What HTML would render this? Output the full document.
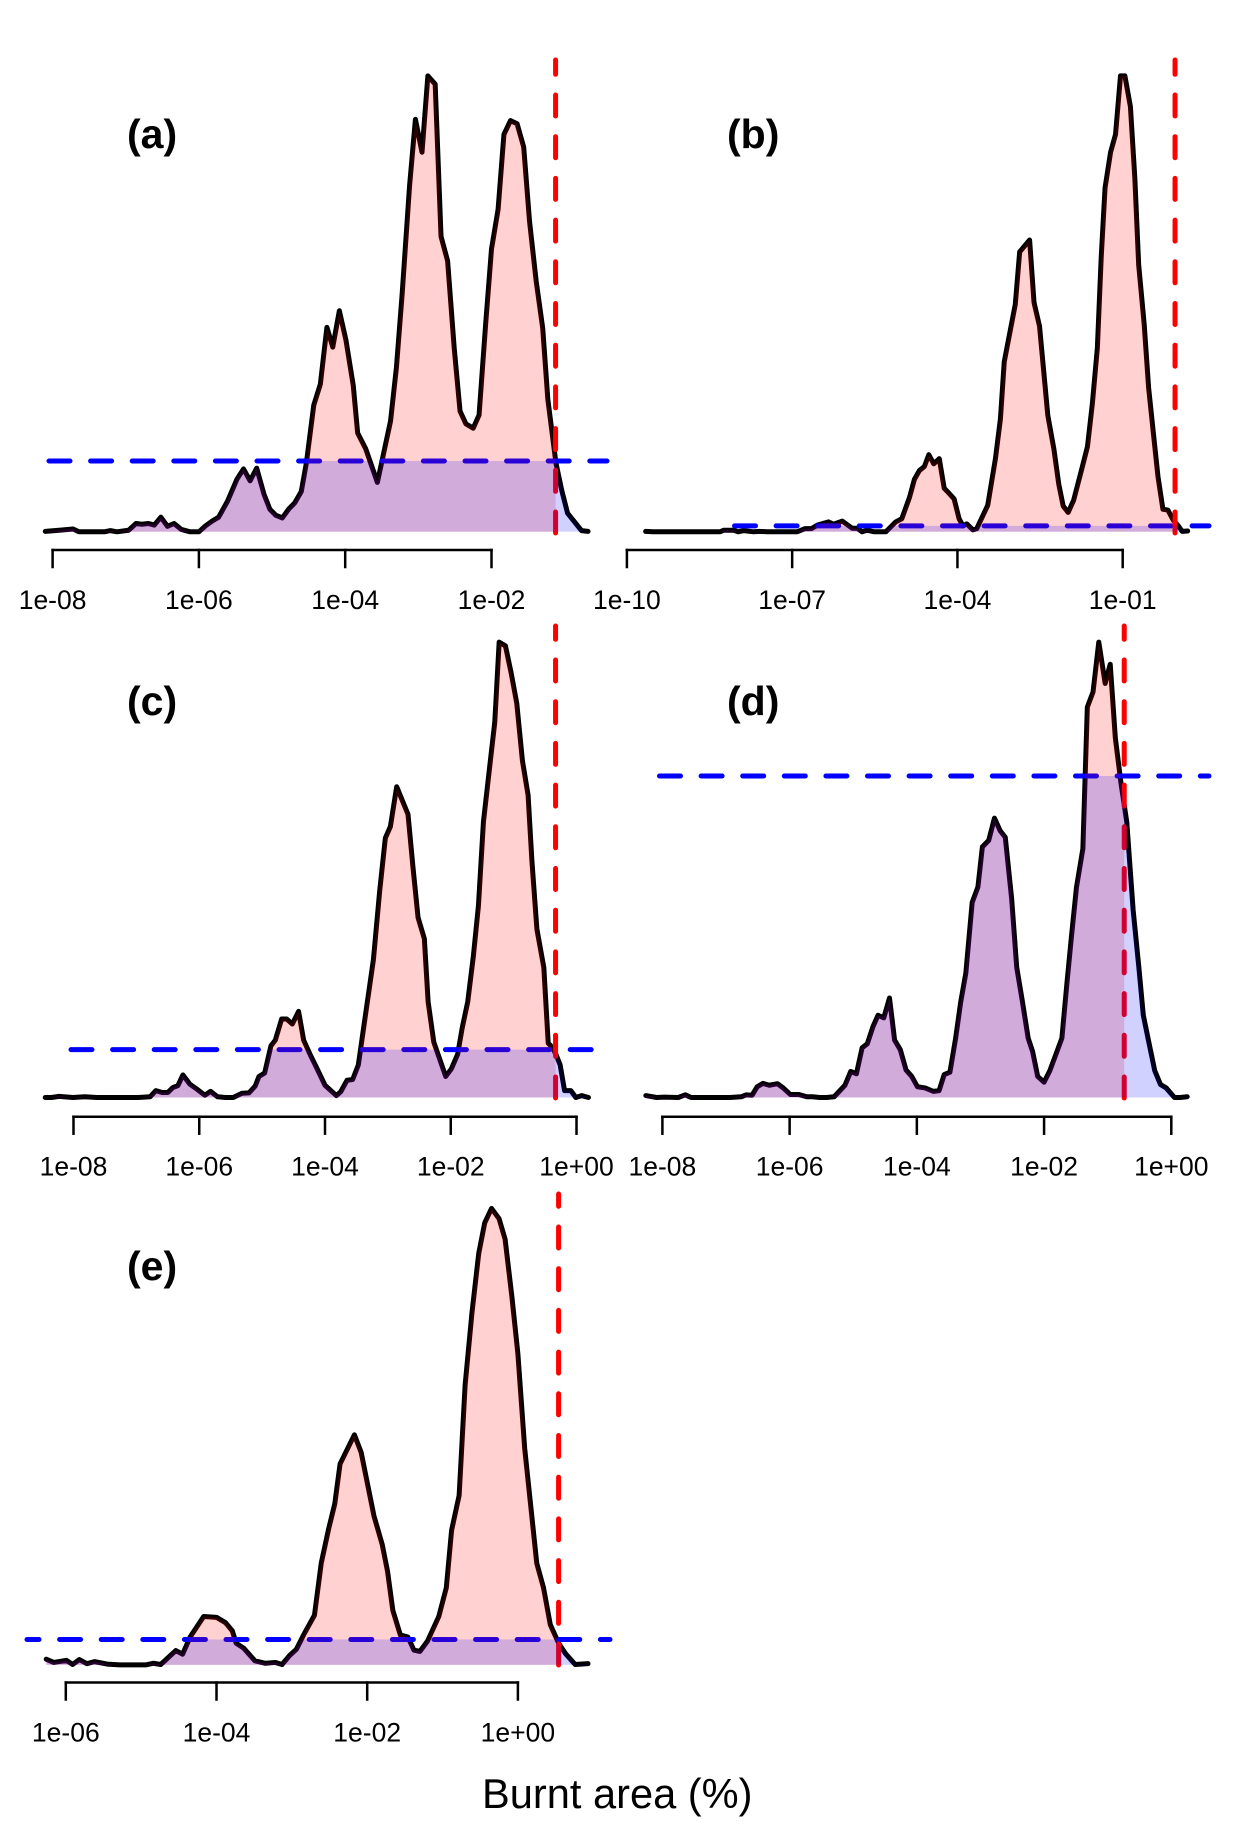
<!DOCTYPE html>
<html lang="en">
<head>
<meta charset="utf-8">
<title>Burnt area density panels</title>
<style>
html,body{margin:0;padding:0;background:#fff;}
svg{display:block;}
text{font-family:"Liberation Sans",Arial,sans-serif;fill:#000;}
.tick-label{font-size:26.5px;text-anchor:middle;}
.panel-letter{font-size:41px;font-weight:bold;}
</style>
</head>
<body>
<svg id="figure" xmlns="http://www.w3.org/2000/svg" width="1235" height="1833" viewBox="0 0 1235 1833">
  <rect x="0" y="0" width="1235" height="1833" fill="#ffffff"/>
  <g id="panel-a"></g>
  <g id="panel-b"></g>
  <g id="panel-c"></g>
  <g id="panel-d"></g>
  <g id="panel-e"></g>
  <text class="panel-letter" x="127" y="148">(a)</text>
  <text class="panel-letter" x="727" y="148">(b)</text>
  <text class="panel-letter" x="127" y="715">(c)</text>
  <text class="panel-letter" x="727" y="715">(d)</text>
  <text class="panel-letter" x="127" y="1280">(e)</text>
  <text x="482" y="1808" font-size="41.6">Burnt area (%)</text>
</svg>
<script>
// Panel (a)
const logAreaA = [-8.10,-7.91,-7.72,-7.64,-7.29,-7.21,-7.12,-6.96,-6.86,-6.78,-6.69,-6.61,-6.52,-6.43,-6.34,-6.24,-6.12,-6.00,-5.91,-5.82,-5.73,-5.61,-5.48,-5.39,-5.30,-5.21,-5.11,-5.03,-4.95,-4.86,-4.77,-4.69,-4.60,-4.53,-4.43,-4.34,-4.25,-4.17,-4.08,-3.99,-3.89,-3.83,-3.72,-3.56,-3.38,-3.30,-3.22,-3.12,-3.04,-2.95,-2.87,-2.77,-2.69,-2.60,-2.51,-2.43,-2.35,-2.25,-2.17,-2.08,-2.00,-1.91,-1.83,-1.74,-1.65,-1.56,-1.48,-1.39,-1.30,-1.23,-1.12,-1.04,-0.96,-0.77,-0.68];
const densityA = [1,4,7,0,0,3,0,4,21,19,21,17,37,14,21,6,0,0,15,27,37,77,133,159,129,161,95,57,42,35,58,73,102,175,320,373,517,467,559,485,370,250,210,125,280,415,605,875,1043,960,1153,1132,747,685,465,305,273,262,295,525,715,815,1005,1040,1032,973,785,635,515,335,175,105,47,3,1];
const tickValuesA = [-8,-6,-4,-2];
const tickLabelsA = ["1e-08","1e-06","1e-04","1e-02"];
const thresholdLogA = -1.124;
const thresholdDensityA = 179;

// Panel (b)
const logAreaB = [-9.66,-9.53,-8.31,-8.24,-8.06,-7.98,-7.88,-7.70,-7.60,-7.45,-6.91,-6.77,-6.65,-6.54,-6.34,-6.25,-6.09,-5.91,-5.82,-5.73,-5.64,-5.51,-5.30,-5.12,-5.01,-4.87,-4.78,-4.69,-4.60,-4.52,-4.43,-4.33,-4.24,-4.17,-4.06,-3.97,-3.90,-3.83,-3.72,-3.65,-3.45,-3.31,-3.22,-3.15,-3.04,-2.95,-2.87,-2.69,-2.61,-2.51,-2.36,-2.25,-2.16,-2.08,-1.99,-1.89,-1.75,-1.64,-1.55,-1.46,-1.39,-1.32,-1.22,-1.13,-1.04,-0.96,-0.86,-0.78,-0.71,-0.61,-0.53,-0.44,-0.36,-0.27,-0.18,-0.08,0.01,0.08,0.18];
const densityB = [1,0,0,4,4,0,3,0,1,0,0,8,8,17,25,19,27,9,9,0,4,0,0,25,33,87,133,155,165,195,172,185,110,100,83,33,15,20,5,8,67,185,285,430,510,575,708,738,580,520,295,210,120,65,49,80,155,215,325,465,695,870,960,1005,1153,1153,1075,895,675,525,365,245,140,57,55,29,15,1,2];
const tickValuesB = [-10,-7,-4,-1];
const tickLabelsB = ["1e-10","1e-07","1e-04","1e-01"];
const thresholdLogB = -0.05;
const thresholdDensityB = 15;

// Panel (c)
const logAreaC = [-8.45,-8.35,-8.23,-8.01,-7.82,-7.63,-6.97,-6.78,-6.69,-6.59,-6.50,-6.42,-6.34,-6.26,-6.15,-6.03,-5.91,-5.82,-5.71,-5.58,-5.46,-5.32,-5.21,-5.11,-5.05,-4.96,-4.86,-4.79,-4.69,-4.61,-4.52,-4.42,-4.34,-4.23,-4.14,-4.00,-3.82,-3.75,-3.65,-3.56,-3.47,-3.37,-3.23,-3.13,-3.04,-2.96,-2.86,-2.68,-2.60,-2.52,-2.42,-2.36,-2.27,-2.08,-1.99,-1.89,-1.82,-1.73,-1.64,-1.56,-1.48,-1.37,-1.30,-1.23,-1.13,-1.04,-0.95,-0.86,-0.77,-0.71,-0.63,-0.52,-0.45,-0.38,-0.32,-0.26,-0.19,-0.09,-0.01,0.08,0.19];
const densityC = [0,0,3,0,2,0,0,2,18,13,13,26,31,59,35,21,6,16,2,0,0,11,12,30,55,64,135,150,205,205,192,225,150,110,80,32,5,15,45,47,85,200,360,540,678,708,812,740,600,470,415,250,145,55,75,113,180,250,370,500,720,880,980,1190,1180,1110,1030,880,790,620,440,340,142,130,110,85,18,18,0,5,0];
const tickValuesC = [-8,-6,-4,-2,0];
const tickLabelsC = ["1e-08","1e-06","1e-04","1e-02","1e+00"];
const thresholdLogC = -0.333;
const thresholdDensityC = 125;

// Panel (d)
const logAreaD = [-8.26,-8.09,-7.97,-7.75,-7.64,-7.55,-7.13,-7.04,-6.94,-6.76,-6.68,-6.59,-6.51,-6.42,-6.32,-6.19,-6.10,-5.99,-5.86,-5.73,-5.64,-5.53,-5.42,-5.30,-5.13,-5.04,-4.95,-4.86,-4.78,-4.69,-4.61,-4.52,-4.43,-4.35,-4.26,-4.17,-4.08,-3.99,-3.87,-3.74,-3.65,-3.57,-3.48,-3.39,-3.31,-3.23,-3.13,-3.04,-2.97,-2.87,-2.78,-2.69,-2.61,-2.51,-2.43,-2.34,-2.25,-2.18,-2.10,-2.00,-1.91,-1.82,-1.72,-1.64,-1.57,-1.49,-1.39,-1.32,-1.23,-1.14,-1.04,-0.96,-0.88,-0.79,-0.70,-0.60,-0.51,-0.44,-0.36,-0.26,-0.17,-0.08,0.05,0.14,0.25];
const densityD = [5,0,1,0,7,0,0,0,0,2,7,6,28,37,32,36,25,8,8,2,2,0,0,2,32,68,62,130,140,185,215,208,260,150,125,72,55,28,25,16,18,60,66,155,250,325,510,550,655,672,730,697,680,520,340,250,155,120,55,40,70,110,155,300,420,550,650,1020,1060,1190,1082,1132,940,820,720,490,340,215,150,70,34,25,0,0,2];
const tickValuesD = [-8,-6,-4,-2,0];
const tickLabelsD = ["1e-08","1e-06","1e-04","1e-02","1e+00"];
const thresholdLogD = -0.74;
const thresholdDensityD = 840;

// Panel (e)
const logAreaE = [-6.26,-6.16,-5.99,-5.91,-5.82,-5.72,-5.62,-5.45,-5.28,-4.94,-4.84,-4.74,-4.64,-4.54,-4.45,-4.35,-4.17,-4.00,-3.88,-3.79,-3.74,-3.64,-3.49,-3.35,-3.22,-3.13,-3.03,-2.94,-2.83,-2.70,-2.61,-2.51,-2.43,-2.36,-2.17,-2.08,-1.91,-1.80,-1.73,-1.66,-1.56,-1.46,-1.38,-1.30,-1.20,-1.05,-0.95,-0.88,-0.78,-0.70,-0.61,-0.52,-0.44,-0.35,-0.25,-0.17,-0.08,0.00,0.09,0.17,0.25,0.34,0.43,0.54,0.63,0.76,0.93];
const densityE = [14,6,11,1,13,3,8,2,0,0,4,1,18,35,26,68,118,116,103,83,53,41,10,4,6,1,23,38,78,121,248,333,393,490,561,518,363,293,228,133,73,68,36,33,58,118,188,328,413,683,858,1003,1078,1113,1088,1038,898,758,528,388,248,188,98,53,28,1,3];
const tickValuesE = [-6,-4,-2,0];
const tickLabelsE = ["1e-06","1e-04","1e-02","1e+00"];
const thresholdLogE = 0.54;
const thresholdDensityE = 62;

const SVG_NS = "http://www.w3.org/2000/svg";

function makeXScale(ticks, leftPx, rightPx) {
  const first = ticks[0];
  const last = ticks[ticks.length - 1];
  return function (v) { return leftPx + (v - first) * (rightPx - leftPx) / (last - first); };
}
function makeYScale(maxDensity, baselinePx, topPx) {
  return function (d) { return baselinePx - d * (baselinePx - topPx) / maxDensity; };
}
function make(tag, attrs) {
  const el = document.createElementNS(SVG_NS, tag);
  for (const k in attrs) el.setAttribute(k, attrs[k]);
  return el;
}

function drawPanel(id, logArea, density, tickValues, tickLabels, thrLog, thrDensity, layout) {
  const g = document.getElementById("panel-" + id);
  const x = makeXScale(tickValues, layout.axisLeft, layout.axisRight);
  const y = makeYScale(layout.maxDensity, layout.baseline, layout.top);
  const baseY = y(0);

  const curvePts = logArea.map(function (v, i) { return x(v).toFixed(2) + "," + y(density[i]).toFixed(2); });
  const polyPts = x(logArea[0]).toFixed(2) + "," + baseY + " " + curvePts.join(" ") + " " + x(logArea[logArea.length - 1]).toFixed(2) + "," + baseY;

  // density curve
  const curve = make("polyline", {points: curvePts.join(" "), fill: "none", stroke: "#000", "stroke-width": 5, "stroke-linejoin": "round", "stroke-linecap": "round"});
  
  
  g.appendChild(curve);

  // horizontal threshold
  const hy = y(thrDensity);
  const hLine = make("line", {x1: layout.blueStart, y1: hy, x2: layout.blueEnd, y2: hy, stroke: "#0000ff", "stroke-width": 5, "stroke-dasharray": "21 20.6", "stroke-dashoffset": layout.blueOffset, "stroke-linecap": "round"});
  
  
  g.appendChild(hLine);

  // vertical threshold, dashed from the bottom up
  const vx = x(thrLog);
  const vLine = make("line", {x1: vx, y1: layout.redBottom, x2: vx, y2: layout.redTop, stroke: "#ff0000", "stroke-width": 5, "stroke-dasharray": "21 20.7", "stroke-linecap": "round"});
  
  
  g.appendChild(vLine);

  // shaded regions, drawn above the lines
  const defs = make("defs", {});
  const clipRed = make("clipPath", {id: "clip-red-" + id});
  clipRed.appendChild(make("rect", {x: 0, y: 0, width: vx, height: 1833}));
  const clipBlue = make("clipPath", {id: "clip-blue-" + id});
  clipBlue.appendChild(make("rect", {x: 0, y: hy, width: 1235, height: baseY - hy}));
  defs.appendChild(clipRed);
  defs.appendChild(clipBlue);
  g.appendChild(defs);

  const redFill = make("polygon", {points: polyPts, fill: "rgba(255,0,0,0.18)", "clip-path": "url(#clip-red-" + id + ")"});
  
  
  g.appendChild(redFill);

  const blueFill = make("polygon", {points: polyPts, fill: "rgba(0,0,255,0.18)", "clip-path": "url(#clip-blue-" + id + ")"});
  
  
  g.appendChild(blueFill);

  // x axis
  const axisY = layout.axisY;
  const axisLine = make("line", {x1: x(tickValues[0]), y1: axisY, x2: x(tickValues[tickValues.length - 1]), y2: axisY, stroke: "#000", "stroke-width": 2.5, "stroke-linecap": "square"});
  
  
  g.appendChild(axisLine);

  tickValues.forEach(function (v, i) {
    const tick = make("line", {x1: x(v), y1: axisY, x2: x(v), y2: axisY + 17, stroke: "#000", "stroke-width": 2.5, "stroke-linecap": "square"});
    
    
    g.appendChild(tick);

    const label = make("text", {x: x(v), y: axisY + 59, "class": "tick-label"});
    label.textContent = tickLabels[i];
    
    
    g.appendChild(label);
  });
}

drawPanel("a", logAreaA, densityA, tickValuesA, tickLabelsA, thresholdLogA, thresholdDensityA,
  {axisLeft: 52.6, axisRight: 491.5, maxDensity: 1155, baseline: 531.8, top: 75.1, axisY: 550, blueStart: 49, blueEnd: 607, blueOffset: 0, redBottom: 533, redTop: 60});
drawPanel("b", logAreaB, densityB, tickValuesB, tickLabelsB, thresholdLogB, thresholdDensityB,
  {axisLeft: 626.9, axisRight: 1122.7, maxDensity: 1155, baseline: 531.8, top: 75.1, axisY: 550, blueStart: 734.5, blueEnd: 1209, blueOffset: 0, redBottom: 533, redTop: 60});
drawPanel("c", logAreaC, densityC, tickValuesC, tickLabelsC, thresholdLogC, thresholdDensityC,
  {axisLeft: 73.5, axisRight: 576.5, maxDensity: 1190, baseline: 1097.5, top: 642.1, axisY: 1116.7, blueStart: 71, blueEnd: 592, blueOffset: 0, redBottom: 1098, redTop: 626});
drawPanel("d", logAreaD, densityD, tickValuesD, tickLabelsD, thresholdLogD, thresholdDensityD,
  {axisLeft: 662.4, axisRight: 1171.3, maxDensity: 1190, baseline: 1097.5, top: 642.1, axisY: 1116.7, blueStart: 659.5, blueEnd: 1209, blueOffset: 0, redBottom: 1098, redTop: 626});
drawPanel("e", logAreaE, densityE, tickValuesE, tickLabelsE, thresholdLogE, thresholdDensityE,
  {axisLeft: 65.8, axisRight: 517.9, maxDensity: 1115, baseline: 1664.9, top: 1207.6, axisY: 1682.5, blueStart: 27, blueEnd: 610, blueOffset: 9, redBottom: 1665, redTop: 1194});
</script>
</body>
</html>
